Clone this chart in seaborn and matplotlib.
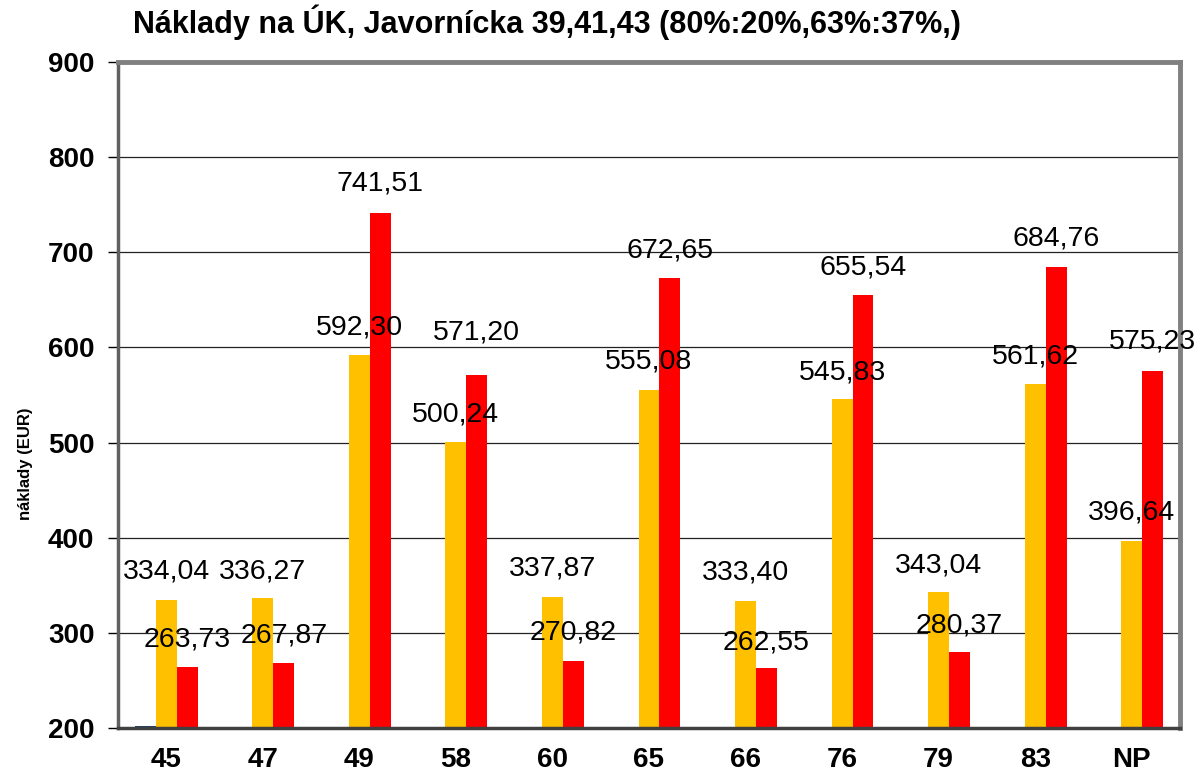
import pandas as pd
import matplotlib
matplotlib.use('Agg')
import matplotlib.pyplot as plt
import seaborn as sns
import numpy as np

kategorie = ['45', '47', '49', '58', '60', '65', '66', '76', '79', '83', 'NP']
serie_a = [202.0, np.nan, np.nan, np.nan, np.nan, np.nan, np.nan, np.nan, np.nan, np.nan, np.nan]
serie_b = [334.04, 336.27, 592.30, 500.24, 337.87, 555.08, 333.40, 545.83, 343.04, 561.62, 396.64]
serie_c = [263.73, 267.87, 741.51, 571.20, 270.82, 672.65, 262.55, 655.54, 280.37, 684.76, 575.23]

# vertical placement of the value labels (data units), as in the original
lbl_b_y = [364, 364, 621, 529, 368, 585, 363, 574, 371, 590, 426]
lbl_c_y = [293, 297, 772, 616, 300, 702, 290, 684, 308, 715, 606]

df = pd.DataFrame({
    'kat': kategorie * 3,
    'val': serie_a + serie_b + serie_c,
    'serie': ['a'] * 11 + ['b'] * 11 + ['c'] * 11,
})

sns.set_style('white')
plt.rcParams['font.family'] = ['Liberation Sans', 'DejaVu Sans']
plt.rcParams['text.color'] = 'black'
plt.rcParams['axes.labelcolor'] = 'black'
plt.rcParams['xtick.color'] = 'black'
plt.rcParams['ytick.color'] = 'black'

fig = plt.figure(figsize=(12, 7.76), dpi=100)
ax = fig.add_axes([0.0983, 0.0619, 0.885, 0.8582])

bar_w = 0.65
sns.barplot(data=df, x='kat', y='val', hue='serie', order=kategorie,
            palette={'a': '#1f3f6e', 'b': '#ffc000', 'c': '#ff0000'},
            width=bar_w, gap=0, legend=False, ax=ax, saturation=1, linewidth=0)

ax.set_ylim(200, 900)
ax.set_xlim(-0.5, len(kategorie) - 0.5)
ax.set_yticks(range(200, 901, 100))
ax.yaxis.grid(True, color='#222222', linewidth=0.9)
ax.set_axisbelow(True)

# value labels centred above their bars
bw = bar_w / 3
for i in range(len(kategorie)):
    ax.text(i, lbl_b_y[i], f"{serie_b[i]:.2f}".replace('.', ','),
            ha='center', va='center', fontsize=20.5, color='black')
    ax.text(i + bw, lbl_c_y[i], f"{serie_c[i]:.2f}".replace('.', ','),
            ha='center', va='center', fontsize=20.5, color='black')

for s in ['top', 'right']:
    ax.spines[s].set_color('#808080')
    ax.spines[s].set_linewidth(3.5)
ax.spines['left'].set_color('#606060')
ax.spines['left'].set_linewidth(2.5)
ax.spines['bottom'].set_color('#404040')
ax.spines['bottom'].set_linewidth(2.5)

ax.set_xticks(np.arange(-0.5, len(kategorie), 1), minor=True)
ax.tick_params(axis='x', which='major', length=0, labelsize=20, pad=14)
ax.tick_params(axis='x', which='minor', length=9, width=1.3, color='black', direction='out')
ax.tick_params(axis='y', length=7, width=1, color='black', direction='out',
               labelsize=20, left=True, pad=10)
for t in ax.get_xticklabels() + ax.get_yticklabels():
    t.set_fontweight('bold')

ax.set_xlabel('')
ax.set_ylabel('náklady (EUR)', fontsize=12, fontweight='bold')
ax.yaxis.set_label_coords(-0.080, 0.396)

fig.text(0.111, 0.9716, 'Náklady na ÚK, Javornícka 39,41,43 (80%:20%,63%:37%,)',
         ha='left', va='center', fontsize=22, fontweight='bold')

fig.savefig('out.png', dpi=100)
